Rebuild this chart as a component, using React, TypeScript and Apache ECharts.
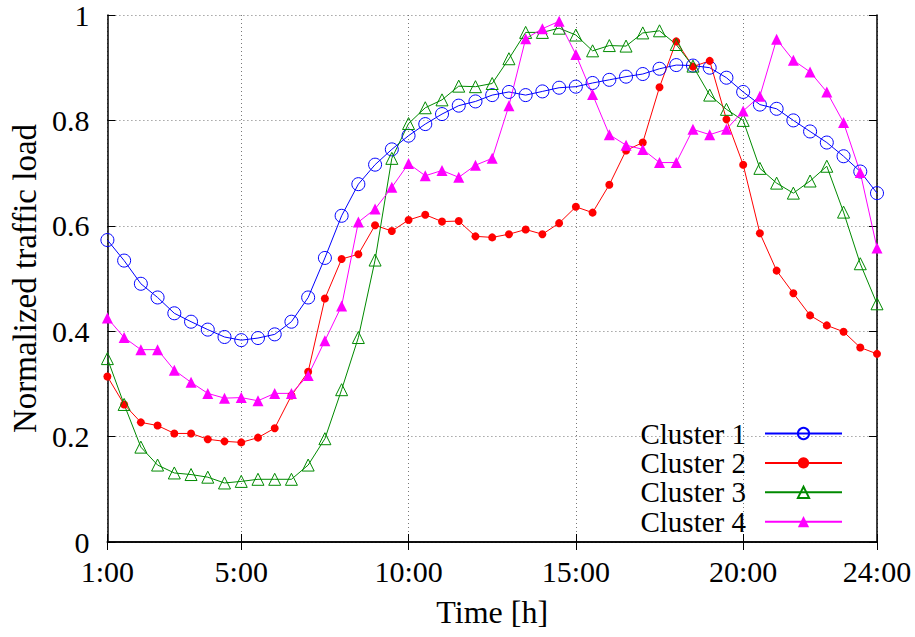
import React, { useEffect, useRef } from 'react';
import * as echarts from 'echarts';

const hours = [
  1, 1.5, 2, 2.5, 3, 3.5, 4, 4.5, 5, 5.5,
  6, 6.5, 7, 7.5, 8, 8.5, 9, 9.5, 10, 10.5,
  11, 11.5, 12, 12.5, 13, 13.5, 14, 14.5, 15, 15.5,
  16, 16.5, 17, 17.5, 18, 18.5, 19, 19.5, 20, 20.5,
  21, 21.5, 22, 22.5, 23, 23.5, 24,
];

const cluster1 = [
  0.573, 0.534, 0.490, 0.464, 0.434, 0.418, 0.403, 0.389, 0.383, 0.387,
  0.394, 0.418, 0.464, 0.539, 0.619, 0.679, 0.716, 0.745, 0.771, 0.793,
  0.812, 0.828, 0.836, 0.848, 0.854, 0.848, 0.855, 0.862, 0.864, 0.871,
  0.877, 0.883, 0.888, 0.898, 0.905, 0.904, 0.900, 0.881, 0.854, 0.830,
  0.822, 0.800, 0.779, 0.758, 0.732, 0.703, 0.662,
];

const cluster2 = [
  0.314, 0.261, 0.227, 0.221, 0.206, 0.206, 0.195, 0.191, 0.189, 0.198,
  0.216, 0.278, 0.323, 0.462, 0.537, 0.546, 0.601, 0.590, 0.611, 0.621,
  0.608, 0.609, 0.580, 0.578, 0.584, 0.593, 0.584, 0.605, 0.636, 0.625,
  0.678, 0.743, 0.758, 0.863, 0.950, 0.902, 0.913, 0.802, 0.716, 0.586,
  0.515, 0.472, 0.430, 0.411, 0.399, 0.369, 0.357,
];

const cluster3 = [
  0.348, 0.261, 0.180, 0.146, 0.131, 0.128, 0.123, 0.112, 0.115, 0.119,
  0.119, 0.119, 0.146, 0.196, 0.289, 0.388, 0.535, 0.728, 0.794, 0.824,
  0.839, 0.865, 0.864, 0.870, 0.917, 0.967, 0.967, 0.975, 0.962, 0.932,
  0.942, 0.941, 0.966, 0.970, 0.944, 0.903, 0.848, 0.821, 0.800, 0.709,
  0.681, 0.662, 0.685, 0.713, 0.626, 0.528, 0.452,
];

const cluster4 = [
  0.425, 0.388, 0.365, 0.365, 0.326, 0.303, 0.282, 0.273, 0.274, 0.268,
  0.282, 0.282, 0.316, 0.382, 0.448, 0.607, 0.632, 0.673, 0.718, 0.695,
  0.705, 0.692, 0.715, 0.728, 0.828, 0.955, 0.974, 0.988, 0.925, 0.849,
  0.773, 0.753, 0.745, 0.720, 0.720, 0.783, 0.773, 0.783, 0.818, 0.846,
  0.954, 0.914, 0.892, 0.854, 0.796, 0.701, 0.558,
];

const seriesNames = ['Cluster 1', 'Cluster 2', 'Cluster 3', 'Cluster 4'];
const xTicks = [1, 5, 10, 15, 20, 24];
const xTickLabels = ['1:00', '5:00', '10:00', '15:00', '20:00', '24:00'];
const yTickLabels = ['0', '0.2', '0.4', '0.6', '0.8', '1'];

const FONT = 'Liberation Serif';

function pairs(vals: number[]) {
  return hours.map((h, i) => [h, vals[i]]);
}

export default function App() {
  const ref = useRef<HTMLDivElement>(null);

  useEffect(() => {
    if (!ref.current) return;
    const chart = echarts.init(ref.current, null, { renderer: 'svg' });

    const gridLine = { show: true, lineStyle: { color: '#777', type: [1, 3], width: 1 } };
    const axisLine = () => ({ show: true, lineStyle: { color: '#000', width: 1.5 } });
    const tickStyle = () => ({ color: '#000', width: 1 });

    chart.setOption({
      animation: false,
      textStyle: { fontFamily: FONT },
      grid: { left: 106, right: 38, top: 12, bottom: 95 },
      xAxis: [
        {
          type: 'value',
          min: 1,
          max: 24,
          position: 'bottom',
          axisLine: axisLine(),
          axisTick: { show: true, inside: true, length: 8, customValues: xTicks, lineStyle: tickStyle() },
          axisLabel: {
            customValues: xTicks,
            formatter: (v: number) => {
              const i = xTicks.indexOf(v);
              return i >= 0 ? xTickLabels[i] : '';
            },
            margin: 14,
            fontFamily: FONT,
            fontSize: 30,
            color: '#000',
          },
          splitLine: gridLine,
          name: 'Time [h]',
          nameLocation: 'middle',
          nameGap: 54,
          nameTextStyle: { fontFamily: FONT, fontSize: 32, color: '#000' },
        },
        {
          type: 'value',
          min: 1,
          max: 24,
          position: 'top',
          axisLine: axisLine(),
          axisTick: { show: true, inside: true, length: 8, customValues: xTicks, lineStyle: tickStyle() },
          axisLabel: { show: false },
          splitLine: { show: false },
        },
      ],
      yAxis: [
        {
          type: 'value',
          min: 0,
          max: 1,
          interval: 0.2,
          position: 'left',
          axisLine: axisLine(),
          axisTick: { show: true, inside: true, length: 8, lineStyle: tickStyle() },
          axisLabel: {
            formatter: (v: number) => yTickLabels[Math.round(v / 0.2)] ?? String(v),
            margin: 18,
            fontFamily: FONT,
            fontSize: 30,
            color: '#000',
          },
          splitLine: gridLine,
          name: 'Normalized traffic load',
          nameLocation: 'middle',
          nameGap: 66,
          nameTextStyle: { fontFamily: FONT, fontSize: 33, color: '#000' },
        },
        {
          type: 'value',
          min: 0,
          max: 1,
          interval: 0.2,
          position: 'right',
          axisLine: axisLine(),
          axisTick: { show: true, inside: true, length: 8, lineStyle: tickStyle() },
          axisLabel: { show: false },
          splitLine: { show: false },
        },
      ],
      legend: {
        orient: 'vertical',
        align: 'right',
        right: 72,
        top: 419,
        padding: 0,
        itemWidth: 77,
        itemHeight: 14,
        itemGap: 0.4,
        data: seriesNames,
        textStyle: { fontFamily: FONT, fontSize: 29, color: '#000', lineHeight: 28, padding: [0, 14, 0, 0] },
      },
      series: [
        {
          name: seriesNames[0],
          type: 'line',
          data: pairs(cluster1),
          symbol: 'circle',
          symbolSize: 13,
          lineStyle: { color: '#0000ff', width: 1 },
          itemStyle: { color: 'transparent', borderColor: '#0000ff', borderWidth: 1 },
        },
        {
          name: seriesNames[1],
          type: 'line',
          data: pairs(cluster2),
          symbol: 'circle',
          symbolSize: 8,
          lineStyle: { color: '#ff0000', width: 1 },
          itemStyle: { color: '#ff0000' },
        },
        {
          name: seriesNames[2],
          type: 'line',
          data: pairs(cluster3),
          symbol: 'triangle',
          symbolSize: 12,
          lineStyle: { color: '#008a00', width: 1 },
          itemStyle: { color: 'transparent', borderColor: '#008a00', borderWidth: 1 },
        },
        {
          name: seriesNames[3],
          type: 'line',
          data: pairs(cluster4),
          symbol: 'triangle',
          symbolSize: 11,
          lineStyle: { color: '#ff00ff', width: 1 },
          itemStyle: { color: '#ff00ff' },
        },
      ],
    });
    return () => chart.dispose();
  }, []);

  return (
    <>
      <style>{`svg text { font-family: 'Liberation Serif', 'Times New Roman', serif !important; }`}</style>
      <div
        ref={ref}
        style={{ position: 'absolute', left: 0, top: 0, width: 915, height: 637, background: '#fff', fontFamily: 'Liberation Serif, serif' }}
      />
    </>
  );
}
